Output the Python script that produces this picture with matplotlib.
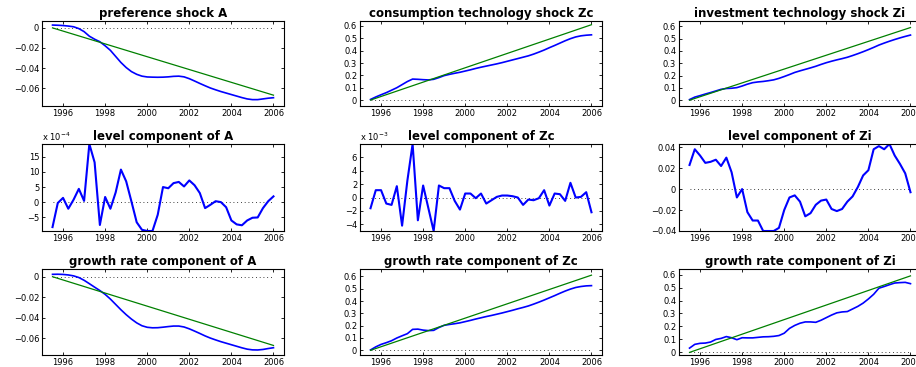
import numpy as np
import matplotlib
matplotlib.use("Agg")
import matplotlib.pyplot as plt
from matplotlib.ticker import FuncFormatter

# ---- data -------------------------------------------------------------
quarters = [1995.5 + 0.25 * i for i in range(43)]
trend_x = [1995.5, 2006.0]
xticks = [1996, 1998, 2000, 2002, 2004, 2006]

pref_A = [0.0025, 0.0023, 0.0020, 0.0015, 0.0008, -0.0010, -0.0040, -0.0085, -0.0115,
          -0.0140, -0.0180, -0.0225, -0.0285, -0.0345, -0.0395, -0.0435, -0.0462, -0.0480,
          -0.0488, -0.0490, -0.0491, -0.0490, -0.0487, -0.0482, -0.0480, -0.0487, -0.0505,
          -0.0528, -0.0552, -0.0575, -0.0597, -0.0615, -0.0632, -0.0647, -0.0662, -0.0677,
          -0.0692, -0.0705, -0.0712, -0.0712, -0.0705, -0.0698, -0.0693]
pref_A_trend = [-0.0003, -0.0668]

cons_Zc = [0.005, 0.025, 0.043, 0.060, 0.080, 0.100, 0.125, 0.150, 0.170, 0.168, 0.165,
           0.163, 0.168, 0.182, 0.198, 0.208, 0.217, 0.225, 0.235, 0.245, 0.256, 0.266,
           0.275, 0.284, 0.293, 0.303, 0.314, 0.325, 0.336, 0.347, 0.358, 0.372, 0.388,
           0.405, 0.424, 0.442, 0.461, 0.480, 0.497, 0.511, 0.520, 0.525, 0.528]
cons_Zc_trend = [0.0, 0.61]

inv_Zi = [0.005, 0.025, 0.037, 0.050, 0.062, 0.075, 0.088, 0.095, 0.097, 0.102, 0.115,
          0.130, 0.142, 0.148, 0.152, 0.158, 0.165, 0.177, 0.192, 0.208, 0.225, 0.238,
          0.250, 0.262, 0.275, 0.290, 0.304, 0.316, 0.327, 0.337, 0.348, 0.362, 0.377,
          0.393, 0.410, 0.428, 0.447, 0.463, 0.478, 0.492, 0.505, 0.517, 0.528]
inv_Zi_trend = [0.0, 0.589]

level_A_e4 = [-8.3, -0.3, 1.4, -2.2, 0.8, 4.4, 0.4, 19.3, 13.2, -7.6, 1.7, -2.2, 3.2, 10.8,
              6.9, 0.2, -6.7, -9.2, -9.6, -9.6, -4.2, 5.0, 4.6, 6.3, 6.7, 5.2, 7.2, 5.6, 3.0,
              -2.0, -0.9, 0.3, 0.0, -1.7, -6.1, -7.4, -7.7, -6.1, -5.2, -5.1, -2.0, 0.3, 1.9]

level_Zc_e3 = [-1.6, 1.1, 1.1, -0.9, -1.1, 1.7, -4.2, 2.5, 8.0, -3.4, 1.8, -1.6, -5.0, 1.8,
               1.4, 1.4, -0.5, -1.8, 0.6, 0.6, -0.1, 0.6, -0.9, -0.4, 0.1, 0.3, 0.3, 0.2,
               0.0, -1.1, -0.3, -0.4, -0.1, 1.1, -1.2, 0.6, 0.5, -0.5, 2.2, 0.0, 0.1, 0.8, -2.2]

level_Zi = [0.023, 0.038, 0.032, 0.025, 0.026, 0.028, 0.022, 0.030, 0.016, -0.008, 0.000,
            -0.022, -0.030, -0.030, -0.040, -0.040, -0.040, -0.037, -0.020, -0.008, -0.006,
            -0.012, -0.026, -0.023, -0.015, -0.011, -0.010, -0.019, -0.021, -0.019, -0.012,
            -0.007, 0.002, 0.013, 0.018, 0.038, 0.041, 0.038, 0.043, 0.032, 0.024, 0.015, -0.003]

growth_A = [0.0023, 0.0024, 0.0022, 0.0017, 0.0008, -0.0008, -0.0035, -0.0068, -0.0102,
            -0.0135, -0.0172, -0.0218, -0.0270, -0.0322, -0.0370, -0.0413, -0.0450, -0.0478,
            -0.0493, -0.0498, -0.0497, -0.0492, -0.0486, -0.0481, -0.0481, -0.0490, -0.0508,
            -0.0530, -0.0553, -0.0577, -0.0598, -0.0616, -0.0633, -0.0648, -0.0663, -0.0678,
            -0.0693, -0.0706, -0.0713, -0.0714, -0.0709, -0.0700, -0.0692]
growth_A_trend = [0.0, -0.067]

growth_Zc = [0.003, 0.028, 0.048, 0.062, 0.078, 0.100, 0.118, 0.135, 0.170, 0.172, 0.164,
             0.160, 0.162, 0.185, 0.203, 0.210, 0.216, 0.223, 0.233, 0.243, 0.254, 0.264,
             0.274, 0.283, 0.293, 0.303, 0.314, 0.325, 0.337, 0.348, 0.360, 0.375, 0.391,
             0.408, 0.426, 0.444, 0.463, 0.481, 0.497, 0.510, 0.518, 0.523, 0.525]
growth_Zc_trend = [0.0, 0.61]

growth_Zi = [0.033, 0.062, 0.070, 0.072, 0.080, 0.100, 0.108, 0.122, 0.113, 0.098, 0.113,
             0.112, 0.112, 0.116, 0.120, 0.121, 0.124, 0.130, 0.148, 0.185, 0.208, 0.225,
             0.235, 0.235, 0.232, 0.248, 0.268, 0.288, 0.305, 0.312, 0.315, 0.335, 0.355,
             0.380, 0.412, 0.448, 0.495, 0.508, 0.522, 0.535, 0.538, 0.540, 0.530]
growth_Zi_trend = [0.0, 0.59]

titles = ["preference shock A", "consumption technology shock Zc",
          "investment technology shock Zi",
          "level component of A", "level component of Zc", "level component of Zi",
          "growth rate component of A", "growth rate component of Zc",
          "growth rate component of Zi"]

# ---- figure -------------------------------------------------------------
W, H = 916, 367
fig = plt.figure(figsize=(W / 100, H / 100), dpi=100)
plt.rcParams['font.family'] = ['DejaVu Sans']

col_left = [42, 360, 679]
ax_w = 242
row_top = [21, 144, 269]
row_bot = [106, 231, 355]

BLUE = (0, 0, 1)
GREEN = (0, 0.5, 0)


def make_ax(r, c):
    l = col_left[c] / W
    b = 1 - row_bot[r] / H
    h = (row_bot[r] - row_top[r]) / H
    ax = fig.add_axes([l, b, ax_w / W, h])
    ax.set_xlim(1995.0, 2006.5)
    ax.set_xticks(xticks)
    ax.tick_params(direction='in', top=True, right=True, length=2.5, width=0.6,
                   labelsize=6, pad=2)
    for s in ax.spines.values():
        s.set_linewidth(0.8)
    ax.set_title(titles[r * 3 + c], fontsize=8.5, fontweight='bold', pad=3)
    ax.plot(trend_x, [0, 0], color='k', linestyle=(0, (1, 3.5)), linewidth=0.6)
    return ax


def smooth_panel(r, c, y, trend, ylim, yticks, fmt):
    ax = make_ax(r, c)
    ax.plot(quarters, y, color=BLUE, linewidth=1.2)
    ax.plot(trend_x, trend, color=GREEN, linewidth=0.9)
    ax.set_ylim(*ylim)
    ax.set_yticks(yticks)
    ax.yaxis.set_major_formatter(FuncFormatter(fmt))
    return ax


def fmt_gen(v, p):
    if abs(v) < 1e-12:
        return "0"
    s = ("%g" % v)
    return s.replace("-", "\u2212")


smooth_panel(0, 0, pref_A, pref_A_trend, (-0.0775, 0.0065), [-0.06, -0.04, -0.02, 0], fmt_gen)
smooth_panel(0, 1, cons_Zc, cons_Zc_trend, (-0.048, 0.64), [0, 0.1, 0.2, 0.3, 0.4, 0.5, 0.6], fmt_gen)
smooth_panel(0, 2, inv_Zi, inv_Zi_trend, (-0.047, 0.642), [0, 0.1, 0.2, 0.3, 0.4, 0.5, 0.6], fmt_gen)
smooth_panel(2, 0, growth_A, growth_A_trend, (-0.0763, 0.0075), [-0.06, -0.04, -0.02, 0], fmt_gen)
smooth_panel(2, 1, growth_Zc, growth_Zc_trend, (-0.038, 0.66), [0, 0.1, 0.2, 0.3, 0.4, 0.5, 0.6], fmt_gen)
smooth_panel(2, 2, growth_Zi, growth_Zi_trend, (-0.02, 0.643), [0, 0.1, 0.2, 0.3, 0.4, 0.5, 0.6], fmt_gen)

# level components
def level_panel(c, vals, scale, yticks, exp_label):
    ax = make_ax(1, c)
    y = np.asarray(vals) * scale
    ax.plot(quarters, y, color=BLUE, linewidth=1.5)
    ax.set_ylim(y.min(), y.max())
    ax.set_yticks(np.asarray(yticks) * scale)
    ax.yaxis.set_major_formatter(FuncFormatter(lambda v, p: fmt_gen(round(v / scale, 6), p)))
    if exp_label:
        ax.text(0.0, 1.01, exp_label, transform=ax.transAxes, fontsize=6,
                ha='left', va='bottom')
    return ax


level_panel(0, level_A_e4, 1e-4, [-5, 0, 5, 10, 15], "x 10$^{-4}$")
level_panel(1, level_Zc_e3, 1e-3, [-4, -2, 0, 2, 4, 6], "x 10$^{-3}$")
level_panel(2, level_Zi, 1.0, [-0.04, -0.02, 0, 0.02, 0.04], None)

fig.savefig("out.png", dpi=100)
